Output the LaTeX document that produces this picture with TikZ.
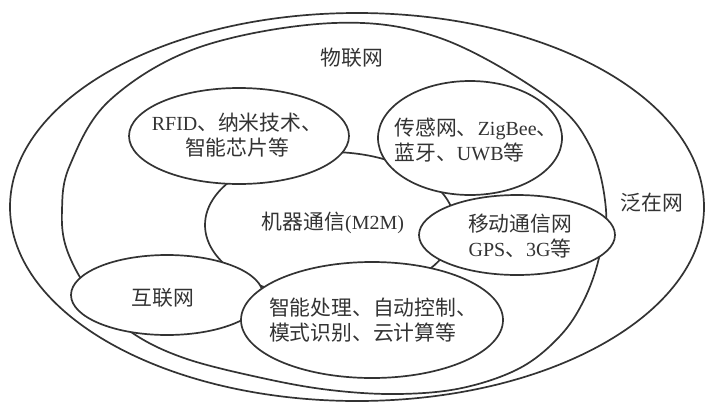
\documentclass[tikz,border=0pt]{standalone}
\usepackage{fontspec}
\setmainfont{Liberation Serif}
\newfontfamily\cjk[Scale=1.04]{Noto Sans CJK SC}
\usetikzlibrary{shapes.geometric}
\newcommand\zh[1]{{\cjk #1}}
\definecolor{ink}{HTML}{333333}
\begin{document}
\begin{tikzpicture}[x=1pt,y=-1pt,
  ring/.style={ellipse, draw=ink, line width=1.7pt, inner sep=0pt},
  bubble/.style={ring, fill=white},
  edge/.style={draw=ink, line width=1.7pt},
  lbl/.style={text=ink, font=\fontsize{20}{25}\selectfont, inner sep=0pt}]
\useasboundingbox (0,0) rectangle (706,402);
\fill[white] (0,0) rectangle (706,402);
% outer region (ubiquitous network)
\node[ring, minimum width=694pt, minimum height=388pt] (fz) at (357,207) {};
% inner region (internet of things), slightly egg-shaped
\draw[edge] plot[smooth cycle, tension=0.6] coordinates {
  (334,23) (440,38) (547,97) (590,146) (606,210) (599,258) (584,300)
  (560,336) (520,368) (462,388) (398,394) (330,390) (262,378)
  (184,358) (131,332) (92,295) (67,250) (62,210) (70,165) (110,100) (200,47)};
% machine communication
\node[bubble, minimum width=250pt, minimum height=146pt] (m2m) at (330,225) {};
% surrounding bubbles
\node[bubble, minimum width=220pt, minimum height=96pt] (rfid) at (239,136) {};
\node[bubble, minimum width=184pt, minimum height=114pt] (sensor) at (470,138) {};
\node[bubble, minimum width=192pt, minimum height=80pt] (net) at (167,295) {};
\node[bubble, minimum width=262pt, minimum height=116pt] (ai) at (372,320) {};
\node[bubble, minimum width=196pt, minimum height=80pt] (mob) at (517,235) {};
% labels
\node[lbl] (twl) at (352,58) {\zh{物联网}};
\node[lbl] (tfz) at (652,203) {\zh{泛在网}};
\node[lbl, align=center] (trfid) at (237,135) {RFID\zh{、纳米技术、}\\\zh{智能芯片等}};
\node[lbl, align=left] (tsensor) at (476,140) {\zh{传感网、}ZigBee\zh{、}\\\zh{蓝牙、}UWB\zh{等}};
\node[lbl] (tm2m) at (333,223) {\zh{机器通信}(M2M)};
\node[lbl, align=center] (tmob) at (520,236) {\zh{移动通信网}\\GPS\zh{、}3G\zh{等}};
\node[lbl] (tnet) at (163,298) {\zh{互联网}};
\node[lbl, align=left] (tai) at (373,320) {\zh{智能处理、自动控制、}\\\zh{模式识别、云计算等}};
\end{tikzpicture}
\end{document}
